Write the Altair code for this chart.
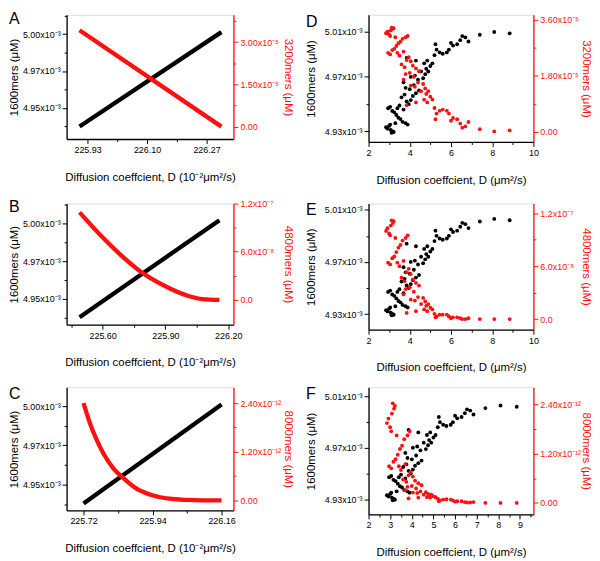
import altair as alt
import pandas as pd

FONT = "Liberation Sans"
RED = "#ff1010"

# ---------------- Panel A (line data, D in 10^-2 um^2/s) ----------------
A_D = [225.907, 226.3125]
A_1600 = [4.9375, 5.0013]          # x10^-3 uM
A_3200 = [3.42, 0.0]               # x10^-5 uM

# ---------------- Panel B ----------------
B_D_1600 = [225.490, 226.158]
B_1600 = [4.938, 5.002]
B_D_4800 = [225.490, 225.603, 225.682, 225.793, 225.919, 226.014, 226.077, 226.158]
B_4800 = [1.09, 0.77, 0.57, 0.33, 0.145, 0.045, 0.01, 0.0]   # x10^-7 uM

# ---------------- Panel C ----------------
C_D_1600 = [225.72, 226.16]
C_1600 = [4.938, 5.001]
C_D_8000 = [225.72, 225.741, 225.762, 225.783, 225.815, 225.847, 225.889,
            225.942, 225.994, 226.047, 226.10, 226.16]
C_8000 = [2.40, 1.89, 1.49, 1.16, 0.79, 0.55, 0.29, 0.12, 0.04, 0.01, 0.0, 0.0]  # x10^-12

# ---------------- Panels D, E, F (scatter, D in um^2/s) ----------------
S_D = [2.85, 2.92, 3.00, 3.08, 3.12, 3.18, 3.22, 3.05,
       2.95, 3.05, 3.15, 3.25, 3.35, 3.45, 3.55, 3.65, 3.80, 3.90, 3.40, 3.50, 3.70, 3.30,
       3.60, 3.75, 3.85, 3.95, 4.05, 4.15, 3.80, 4.00, 4.20, 4.30, 4.45, 3.70,
       4.05, 4.25, 4.40, 4.55, 4.65, 4.75, 4.80, 4.90, 5.00, 4.70, 4.85, 5.10, 3.85, 4.30,
       5.20, 5.30, 5.25, 5.45, 5.60, 5.80, 5.90, 6.00, 6.10, 6.30, 6.45, 6.55, 6.70, 6.85,
       7.40, 8.10, 8.85]
S_1600 = [4.933, 4.932, 4.934, 4.931, 4.929, 4.930, 4.9295, 4.935,
          4.947, 4.948, 4.945, 4.944, 4.942, 4.940, 4.939, 4.937, 4.936, 4.935, 4.947, 4.949, 4.946, 4.936,
          4.955, 4.957, 4.952, 4.950, 4.953, 4.956, 4.962, 4.961, 4.964, 4.958, 4.960, 4.966,
          4.970, 4.971, 4.968, 4.974, 4.969, 4.972, 4.976, 4.974, 4.978, 4.980, 4.982, 4.980, 4.984, 4.982,
          4.986, 4.990, 4.994, 4.988, 4.987, 4.988, 4.990, 4.995, 4.993, 4.994, 4.997, 5.000, 4.999, 4.996,
          5.001, 5.003, 5.002]
S_3200 = [3.17, 3.22, 3.13, 3.26, 3.35, 3.31, 3.33, 3.08,
          2.54, 2.49, 2.63, 2.67, 2.76, 2.85, 2.90, 2.99, 3.04, 3.08, 2.54, 2.45, 2.58, 3.04,
          2.17, 2.08, 2.31, 2.40, 2.27, 2.13, 1.86, 1.90, 1.77, 2.04, 1.95, 1.68,
          1.49, 1.45, 1.59, 1.31, 1.54, 1.40, 1.22, 1.31, 1.13, 1.04, 0.95, 1.04, 0.86, 0.95,
          0.77, 0.59, 0.41, 0.68, 0.72, 0.68, 0.59, 0.36, 0.45, 0.41, 0.27, 0.14, 0.18, 0.32,
          0.09, 0.02, 0.05]
S_4800 = [1.00, 1.03, 0.97, 1.06, 1.12, 1.09, 1.11, 0.95,
          0.64, 0.62, 0.69, 0.71, 0.76, 0.81, 0.84, 0.89, 0.92, 0.95, 0.64, 0.60, 0.66, 0.92,
          0.47, 0.43, 0.53, 0.57, 0.51, 0.45, 0.34, 0.36, 0.31, 0.41, 0.38, 0.28,
          0.22, 0.21, 0.25, 0.17, 0.24, 0.20, 0.15, 0.17, 0.13, 0.11, 0.09, 0.11, 0.07, 0.09,
          0.06, 0.03, 0.02, 0.05, 0.05, 0.05, 0.03, 0.01, 0.02, 0.02, 0.01, 0.00, 0.00, 0.01,
          0.00, 0.00, 0.00]
S_8000 = [1.94, 2.05, 1.84, 2.17, 2.42, 2.29, 2.36, 1.74,
          0.89, 0.84, 1.00, 1.06, 1.17, 1.31, 1.39, 1.55, 1.64, 1.74, 0.89, 0.80, 0.94, 1.64,
          0.57, 0.51, 0.67, 0.75, 0.64, 0.54, 0.39, 0.41, 0.35, 0.48, 0.43, 0.31,
          0.25, 0.24, 0.28, 0.20, 0.26, 0.22, 0.18, 0.20, 0.16, 0.14, 0.13, 0.14, 0.11, 0.13,
          0.10, 0.06, 0.04, 0.08, 0.09, 0.08, 0.06, 0.03, 0.04, 0.04, 0.02, 0.01, 0.01, 0.02,
          0.00, 0.00, 0.00]

X_TITLE_A = "Diffusion coeffcient, D (10\u207b\u00b2\u03bcm\u00b2/s)"
X_TITLE_D = "Diffusion coeffcient, D (\u03bcm\u00b2/s)"
Y_TITLE_L = "1600mers (\u03bcM)"

SUP = {"-3": "\u207b\u00b3", "-5": "\u207b\u2075", "-7": "\u207b\u2077",
       "-8": "\u207b\u2078", "-12": "\u207b\u00b9\u00b2"}


def lbl_expr(labels):
    parts = [f"datum.value == {v} ? '{t}'" for v, t in labels.items()]
    return " : ".join(parts) + " : ''"


def major_test(labels):
    return " || ".join(f"datum.value == {v}" for v in labels)


def axis(labels, minors, color, orient, title, title_pad, extent=None):
    kw = {}
    if extent is not None:
        kw = dict(minExtent=extent, maxExtent=extent)
    return alt.Axis(
        values=sorted(list(labels) + list(minors)),
        labelExpr=lbl_expr(labels),
        tickSize={"condition": {"test": major_test(labels), "value": 4.5}, "value": 2.5},
        orient=orient, title=title, titleColor=color, labelColor=color,
        domainColor=color, tickColor=color, grid=False,
        titlePadding=title_pad, labelFontSize=9, titleFontSize=11.5,
        labelFont=FONT, titleFont=FONT, titleFontWeight="normal",
        labelPadding=2, domainWidth=1.3, tickWidth=1, labelFlush=False,
        labelOverlap=False, **kw,
    )


def lin_labels(vals, fmt):
    return {v: fmt.format(v) for v in vals}


def panel(letter, layers, width, height):
    return alt.layer(*layers).resolve_scale(y="independent").properties(
        width=width, height=height,
        title=alt.TitleParams(text=letter, anchor="start", frame="bounds",
                              fontSize=16, font=FONT, fontWeight="normal",
                              offset=-15, color="black"),
    )


def line_layer(xs, ys, color, xdom, xax, ydom, yax, field_y):
    df = pd.DataFrame({"D": xs, field_y: ys})
    return alt.Chart(df).mark_line(color=color, strokeWidth=4.3, interpolate="monotone").encode(
        x=alt.X("D:Q", scale=alt.Scale(domain=xdom, nice=False, zero=False), axis=xax),
        y=alt.Y(f"{field_y}:Q", scale=alt.Scale(domain=ydom, nice=False, zero=False), axis=yax),
    )


def point_layer(xs, ys, color, xdom, xax, ydom, yax, field_y):
    df = pd.DataFrame({"D": xs, field_y: ys})
    return alt.Chart(df).mark_circle(color=color, size=15, opacity=1).encode(
        x=alt.X("D:Q", scale=alt.Scale(domain=xdom, nice=False, zero=False), axis=xax),
        y=alt.Y(f"{field_y}:Q", scale=alt.Scale(domain=ydom, nice=False, zero=False), axis=yax),
    )


EXT = 42
LREXT = 46  # left-column red axis extent
XTP = 17
REXT = 44   # right-column red axis extent

# ---- left-column shared left axis ----
LEFT_ABC = {4.95: "4.95x10" + SUP["-3"], 4.975: "4.97x10" + SUP["-3"], 5.0: "5.00x10" + SUP["-3"]}
LEFT_ABC_MINOR = [4.9375, 4.9625, 4.9875, 5.0125]
yL_abc = axis(LEFT_ABC, LEFT_ABC_MINOR, "black", "left", Y_TITLE_L, 5, EXT)

# ---- Panel A ----
xdomA = [225.87, 226.347]
xaxA = axis(lin_labels([225.93, 226.10, 226.27], "{:.2f}"), [226.015, 226.185], "black", "bottom", X_TITLE_A, XTP)
pA = panel("A", [
    line_layer(A_D, A_1600, "black", xdomA, xaxA, [4.929, 5.013], yL_abc, "m1600"),
    line_layer(A_D, A_3200, RED, xdomA, xaxA, [-0.44, 3.97],
               axis({0.0: "0.00", 1.5: "1.50x10" + SUP["-5"], 3.0: "3.00x10" + SUP["-5"]},
                    [0.75, 2.25, 3.75], RED, "right", "3200mers (\u03bcM)", 3, LREXT), "m3200"),
], 168, 125)

# ---- Panel B ----
xdomB = [225.428, 226.225]
xaxB = axis(lin_labels([225.60, 225.90, 226.20], "{:.2f}"), [225.45, 225.75, 226.05], "black", "bottom", X_TITLE_A, XTP)
pB = panel("B", [
    line_layer(B_D_1600, B_1600, "black", xdomB, xaxB, [4.933, 5.013], yL_abc, "m1600"),
    line_layer(B_D_4800, B_4800, RED, xdomB, xaxB, [-0.31, 1.2],
               axis({0.0: "0.0", 0.6: "6.0x10" + SUP["-8"], 1.2: "1.2x10" + SUP["-7"]},
                    [0.3, 0.9], RED, "right", "4800mers (\u03bcM)", 3, LREXT), "m4800"),
], 168, 122)

# ---- Panel C ----
xdomC = [225.666, 226.198]
xaxC = axis(lin_labels([225.72, 225.94, 226.16], "{:.2f}"), [225.83, 226.05], "black", "bottom", X_TITLE_A, XTP)
pC = panel("C", [
    line_layer(C_D_1600, C_1600, "black", xdomC, xaxC, [4.9335, 5.012], yL_abc, "m1600"),
    line_layer(C_D_8000, C_8000, RED, xdomC, xaxC, [-0.25, 2.79],
               axis({0.0: "0.00", 1.2: "1.20x10" + SUP["-12"], 2.4: "2.40x10" + SUP["-12"]},
                    [0.6, 1.8], RED, "right", "8000mers (\u03bcM)", 3, LREXT), "m8000"),
], 168, 124)

# ---- Panels D, E, F ----
xaxDE = axis(lin_labels([2, 4, 6, 8, 10], "{:g}"), [3, 5, 7, 9], "black", "bottom", X_TITLE_D, XTP)
xaxF = axis(lin_labels([2, 3, 4, 5, 6, 7, 8, 9], "{:g}"), [2.5, 3.5, 4.5, 5.5, 6.5, 7.5, 8.5, 9.5],
            "black", "bottom", X_TITLE_D, XTP)

yL_D = axis({4.93: "4.93x10" + SUP["-3"], 4.97: "4.97x10" + SUP["-3"], 5.0035: "5.01x10" + SUP["-3"]},
            [4.95], "black", "left", Y_TITLE_L, 10, EXT)
yL_EF = axis({4.93: "4.93x10" + SUP["-3"], 4.97: "4.97x10" + SUP["-3"], 5.01: "5.01x10" + SUP["-3"]},
             [4.95, 4.99], "black", "left", Y_TITLE_L, 10, EXT)

RW = 166
pD = panel("D", [
    point_layer(S_D, S_1600, "black", [2, 10], xaxDE, [4.9222, 5.0156], yL_D, "m1600"),
    point_layer(S_D, S_3200, RED, [2, 10], xaxDE, [-0.32, 3.76],
                axis({0.0: "0.00", 1.8: "1.80x10" + SUP["-5"], 3.6: "3.60x10" + SUP["-5"]},
                     [0.9, 2.7], RED, "right", "3200mers (\u03bcM)", 3, REXT), "m3200"),
], RW, 128)

pE = panel("E", [
    point_layer(S_D, S_1600, "black", [2, 10], xaxDE, [4.918, 5.0148], yL_EF, "m1600"),
    point_layer(S_D, S_4800, RED, [2, 10], xaxDE, [-0.12, 1.31],
                axis({0.0: "0.0", 0.6: "6.0x10" + SUP["-8"], 1.2: "1.2x10" + SUP["-7"]},
                     [0.3, 0.9], RED, "right", "4800mers (\u03bcM)", 3, REXT), "m4800"),
], RW, 127)

pF = panel("F", [
    point_layer(S_D, S_1600, "black", [2, 9.62], xaxF, [4.918, 5.0172], yL_EF, "m1600"),
    point_layer(S_D, S_8000, RED, [2, 9.62], xaxF, [-0.28, 2.81],
                axis({0.0: "0.00", 1.2: "1.20x10" + SUP["-12"], 2.4: "2.40x10" + SUP["-12"]},
                     [0.6, 1.8], RED, "right", "8000mers (\u03bcM)", 3, REXT), "m8000"),
], RW, 128)

chart = alt.vconcat(
    alt.hconcat(pA, pD, spacing=11),
    alt.hconcat(pB, pE, spacing=11),
    alt.hconcat(pC, pF, spacing=11),
    spacing=11,
).configure_view(stroke="black", strokeWidth=1.3).configure(background="white", padding=0)

chart.save("out.html", embed_options={"renderer": "svg", "actions": False})
